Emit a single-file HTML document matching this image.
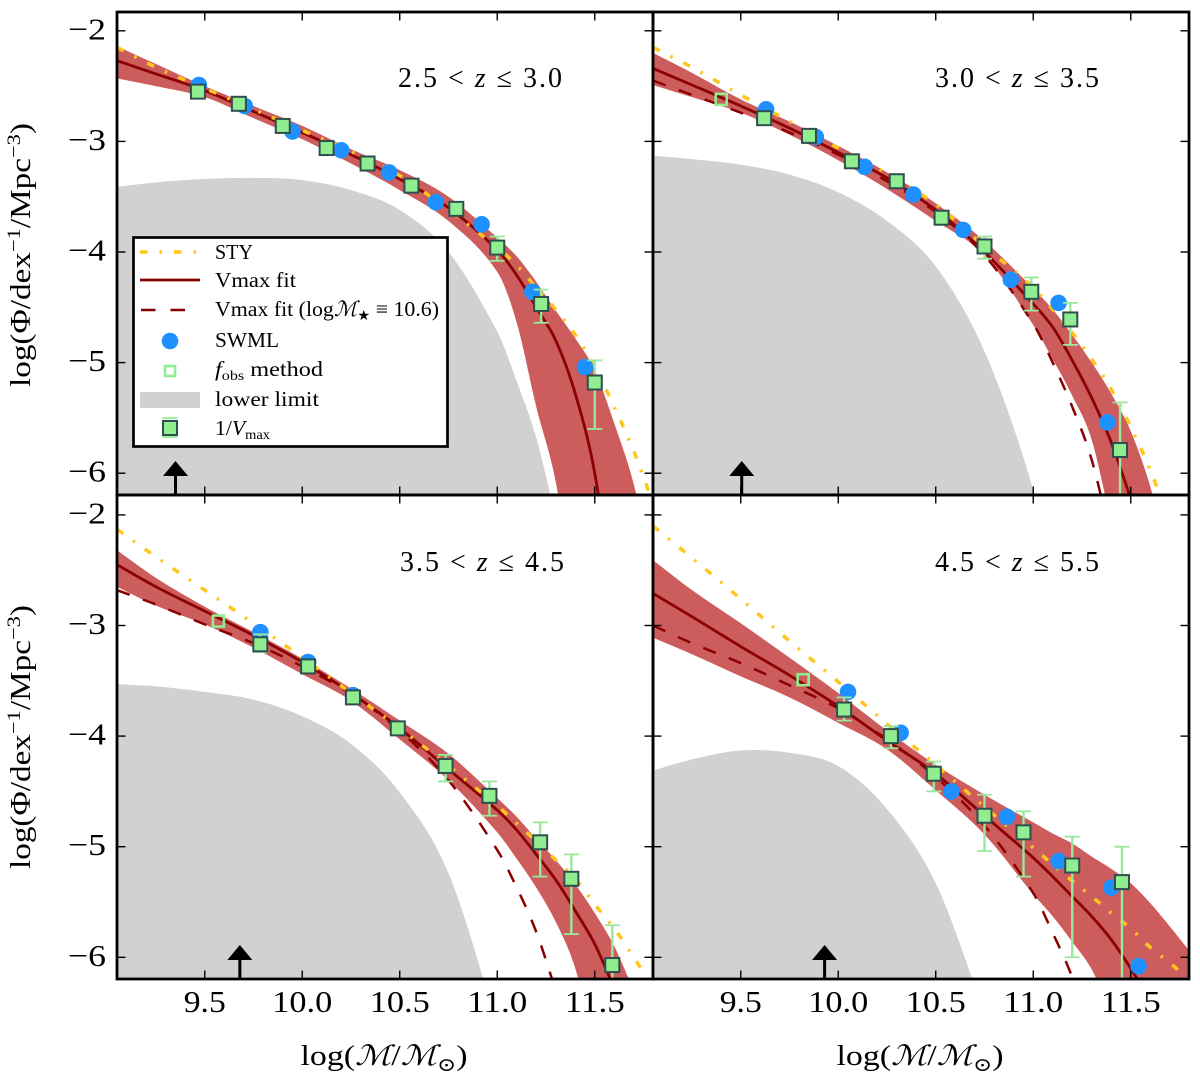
<!DOCTYPE html>
<html lang="en">
<head>
<meta charset="utf-8">
<title>Stellar mass functions in four redshift bins</title>
<style>
  html, body { margin: 0; padding: 0; background: #fff; overflow: hidden; }
  svg { display: block; }
  text { font-family: "Liberation Serif", "DejaVu Serif", serif; fill: #000; }
  .tick-text { font-size: 31px; }
  .title-text { font-size: 28px; }
  .axis-text { font-size: 28px; }
  .legend-text { font-size: 21px; }
</style>
</head>
<body>
<svg id="chart" width="1200" height="1080" viewBox="0 0 1200 1080" xmlns="http://www.w3.org/2000/svg">
  <rect x="0" y="0" width="1200" height="1080" fill="#fff"/>
  <defs>
    <clipPath id="clip-0"><rect x="117" y="12" width="536" height="483"/></clipPath>
    <clipPath id="clip-1"><rect x="653" y="12" width="536" height="483"/></clipPath>
    <clipPath id="clip-2"><rect x="117" y="495" width="536" height="484"/></clipPath>
    <clipPath id="clip-3"><rect x="653" y="495" width="536" height="484"/></clipPath>
  </defs>
  <g id="panels"></g>

  <text class="axis-text" transform="translate(30,255) rotate(-90)" text-anchor="middle" textLength="264" lengthAdjust="spacingAndGlyphs">log(Φ/dex<tspan dy="-10" font-size="19">−1</tspan><tspan dy="10">/Mpc</tspan><tspan dy="-10" font-size="19">−3</tspan><tspan dy="10">)</tspan></text>
  <text class="axis-text" transform="translate(30,737) rotate(-90)" text-anchor="middle" textLength="264" lengthAdjust="spacingAndGlyphs">log(Φ/dex<tspan dy="-10" font-size="19">−1</tspan><tspan dy="10">/Mpc</tspan><tspan dy="-10" font-size="19">−3</tspan><tspan dy="10">)</tspan></text>
  <text class="axis-text" x="384" y="1065" text-anchor="middle" textLength="167" lengthAdjust="spacingAndGlyphs">log(<tspan font-style="italic">ℳ</tspan>/<tspan font-style="italic">ℳ</tspan><tspan dy="6" font-size="19">⊙</tspan><tspan dy="-6">)</tspan></text>
  <text class="axis-text" x="920" y="1065" text-anchor="middle" textLength="167" lengthAdjust="spacingAndGlyphs">log(<tspan font-style="italic">ℳ</tspan>/<tspan font-style="italic">ℳ</tspan><tspan dy="6" font-size="19">⊙</tspan><tspan dy="-6">)</tspan></text>

  <g>
    <rect x="133.5" y="237.5" width="314" height="209" fill="#fff" stroke="#000" stroke-width="2.7"/>

    <line x1="140" y1="252" x2="200" y2="252" stroke="#FFC61E" stroke-width="3.5" stroke-dasharray="7.5 12 2.5 12"/>
    <text class="legend-text" x="215" y="259" textLength="38" lengthAdjust="spacingAndGlyphs">STY</text>

    <line x1="140" y1="280" x2="200" y2="280" stroke="#8B0000" stroke-width="2.8"/>
    <text class="legend-text" x="215" y="287" textLength="81" lengthAdjust="spacingAndGlyphs">Vmax fit</text>

    <line x1="141" y1="310" x2="186" y2="310" stroke="#8B0000" stroke-width="2.5" stroke-dasharray="14.5 15"/>
    <text class="legend-text" x="215" y="316" textLength="224" lengthAdjust="spacingAndGlyphs">Vmax fit (log<tspan font-style="italic">ℳ</tspan><tspan dy="4" font-size="14">★</tspan><tspan dy="-4"> ≡ 10.6)</tspan></text>

    <circle cx="170" cy="341" r="8.3" fill="#1E90FF"/>
    <text class="legend-text" x="215" y="347" textLength="64" lengthAdjust="spacingAndGlyphs">SWML</text>

    <rect x="165" y="366" width="10" height="10" fill="#fff" stroke="#90EE90" stroke-width="2.6"/>
    <text class="legend-text" x="215" y="376" textLength="108" lengthAdjust="spacingAndGlyphs"><tspan font-style="italic">f</tspan><tspan dy="4" font-size="14">obs</tspan><tspan dy="-4"> method</tspan></text>

    <rect x="140" y="392" width="60" height="16" fill="#D1D1D1"/>
    <text class="legend-text" x="215" y="406" textLength="104" lengthAdjust="spacingAndGlyphs">lower limit</text>

    <g>
      <line x1="162.5" y1="418" x2="177.5" y2="418" stroke="#90EE90" stroke-width="1.8"/>
      <line x1="162.5" y1="437" x2="177.5" y2="437" stroke="#90EE90" stroke-width="1.8"/>
      <rect x="163" y="421" width="14" height="14" fill="#90EE90" stroke="#2F4F4F" stroke-width="2"/>
    </g>
    <text class="legend-text" x="215" y="435" textLength="55" lengthAdjust="spacingAndGlyphs">1/<tspan font-style="italic">V</tspan><tspan dy="4" font-size="14">max</tspan></text>
  </g>

  <script>
    // Shared axis data
    const massGrid = [9.05, 9.25, 9.5, 9.75, 10, 10.25, 10.5, 10.75, 11, 11.1, 11.2, 11.3, 11.4, 11.5, 11.6, 11.7, 11.8];
    const xTicks = [9.5, 10, 10.5, 11, 11.5];
    const xTickLabels = ['9.5', '10.0', '10.5', '11.0', '11.5'];
    const yTicks = [-2, -3, -4, -5, -6];
    const yTickLabels = ['−2', '−3', '−4', '−5', '−6'];
    const panelNames = ['2.5', '3.0', '3.5', '4.5', '5.5'];

    // Panel 1: 2.5 < z <= 3.0
    const p1Vmax = [-2.27, -2.39, -2.54, -2.73, -2.92, -3.12, -3.34, -3.6, -3.98, -4.21, -4.5, -4.8, -5.28, -6.0, -7.2, -8.6, -10.2];
    const p1Upper = [-2.14, -2.3, -2.5, -2.68, -2.86, -3.07, -3.26, -3.5, -3.87, -4.04, -4.27, -4.53, -4.78, -5.07, -5.55, -6.1, -6.9];
    const p1Lower = [-2.43, -2.5, -2.6, -2.79, -2.98, -3.2, -3.44, -3.72, -4.18, -4.64, -5.4, -6.08, -7.2, -8.5, -10, -11.5, -13];
    const p1Sty = [-2.15, -2.33, -2.52, -2.71, -2.9, -3.09, -3.31, -3.62, -3.96, -4.12, -4.32, -4.52, -4.75, -5.04, -5.4, -5.8, -6.28];
    const p1Limit = [-3.41, -3.37, -3.34, -3.33, -3.35, -3.44, -3.62, -4.0, -4.72, -5.17, -5.68, -6.4, -7.5];
    const p1Fixed = [];
    const p1SwmlMass = [9.47, 9.705, 9.95, 10.2, 10.445, 10.685, 10.92, 11.18, 11.45];
    const p1SwmlLog = [-2.49, -2.68, -2.91, -3.08, -3.28, -3.55, -3.75, -4.36, -5.04];
    const p1SquareMass = [9.465, 9.675, 9.9, 10.125, 10.335, 10.56, 10.79, 11, 11.225, 11.5];
    const p1SquareLog = [-2.55, -2.66, -2.86, -3.06, -3.2, -3.4, -3.61, -3.96, -4.47, -5.18];
    const p1SquareHigh = [-2.53, -2.64, -2.84, -3.04, -3.18, -3.38, -3.58, -3.86, -4.34, -4.98];
    const p1SquareLow = [-2.57, -2.68, -2.88, -3.08, -3.22, -3.42, -3.64, -4.08, -4.64, -5.6];
    const p1FobsMass = [];
    const p1FobsLog = [];
    const p1ArrowMass = 9.35;

    // Panel 2: 3.0 < z <= 3.5
    const p2Vmax = [-2.34, -2.49, -2.68, -2.88, -3.1, -3.33, -3.62, -4.0, -4.47, -4.68, -4.98, -5.32, -5.72, -6.23, -6.9, -7.7, -8.6];
    const p2Upper = [-2.2, -2.38, -2.62, -2.82, -3.04, -3.28, -3.56, -3.9, -4.33, -4.52, -4.75, -5.0, -5.28, -5.62, -6.12, -6.8, -7.6];
    const p2Lower = [-2.49, -2.6, -2.74, -2.94, -3.17, -3.43, -3.72, -4.03, -4.66, -4.97, -5.3, -5.7, -6.45, -7.3, -8.2, -9.2, -10.3];
    const p2Sty = [-2.15, -2.33, -2.58, -2.82, -3.06, -3.29, -3.57, -3.95, -4.32, -4.52, -4.73, -4.97, -5.24, -5.58, -5.97, -6.45, -7.0];
    const p2Limit = [-3.13, -3.16, -3.21, -3.3, -3.46, -3.72, -4.13, -4.9, -6.15, -7.0, -7.9];
    const p2Fixed = [-2.45, -2.58, -2.74, -2.92, -3.12, -3.36, -3.64, -4.03, -4.65, -5.0, -5.4, -5.88, -6.6, -7.5, -8.5, -9.7, -11];
    const p2SwmlMass = [9.63, 9.885, 10.135, 10.385, 10.64, 10.885, 11.13, 11.38];
    const p2SwmlLog = [-2.71, -2.96, -3.23, -3.48, -3.8, -4.25, -4.46, -5.54];
    const p2SquareMass = [9.62, 9.85, 10.07, 10.3, 10.53, 10.75, 10.99, 11.19, 11.445];
    const p2SquareLog = [-2.79, -2.95, -3.18, -3.36, -3.69, -3.95, -4.36, -4.61, -5.79];
    const p2SquareHigh = [-2.77, -2.93, -3.16, -3.34, -3.66, -3.86, -4.23, -4.46, -5.36];
    const p2SquareLow = [-2.81, -2.97, -3.2, -3.38, -3.72, -4.06, -4.53, -4.84, -6.7];
    const p2FobsMass = [9.4];
    const p2FobsLog = [-2.62];
    const p2ArrowMass = 9.505;

    // Panel 3: 3.5 < z <= 4.5
    const p3Vmax = [-2.45, -2.65, -2.87, -3.09, -3.33, -3.61, -3.93, -4.3, -4.67, -4.85, -5.07, -5.3, -5.58, -5.88, -6.28, -6.8, -7.4];
    const p3Upper = [-2.32, -2.57, -2.83, -3.06, -3.3, -3.57, -3.86, -4.16, -4.56, -4.73, -4.93, -5.12, -5.34, -5.6, -5.9, -6.3, -6.8];
    const p3Lower = [-2.65, -2.82, -2.99, -3.2, -3.44, -3.68, -4.03, -4.4, -4.87, -5.11, -5.37, -5.68, -6.1, -6.8, -7.5, -8.3, -9.2];
    const p3Sty = [-2.13, -2.38, -2.68, -2.98, -3.29, -3.61, -3.93, -4.27, -4.63, -4.79, -4.95, -5.12, -5.29, -5.52, -5.74, -6.0, -6.28];
    const p3Limit = [-3.53, -3.55, -3.6, -3.67, -3.82, -4.07, -4.51, -5.24, -6.6, -8.0];
    const p3Fixed = [-2.68, -2.81, -2.99, -3.16, -3.37, -3.62, -3.95, -4.4, -5.03, -5.37, -5.77, -6.3, -6.9, -7.6, -8.4, -9.3, -10.3];
    const p3SwmlMass = [9.785, 10.03, 10.26];
    const p3SwmlLog = [-3.06, -3.33, -3.63];
    const p3SquareMass = [9.785, 10.03, 10.26, 10.49, 10.735, 10.96, 11.22, 11.38, 11.59];
    const p3SquareLog = [-3.17, -3.37, -3.65, -3.93, -4.27, -4.54, -4.96, -5.29, -6.07];
    const p3SquareHigh = [-3.08, -3.31, -3.61, -3.89, -4.17, -4.41, -4.78, -5.07, -5.71];
    const p3SquareLow = [-3.24, -3.43, -3.68, -3.97, -4.41, -4.72, -5.27, -5.79, -6.7];
    const p3FobsMass = [9.57];
    const p3FobsLog = [-2.96];
    const p3ArrowMass = 9.68;

    // Panel 4: 4.5 < z <= 5.5
    const p4Vmax = [-2.71, -2.92, -3.19, -3.45, -3.73, -4.04, -4.34, -4.72, -5.1, -5.27, -5.45, -5.63, -5.84, -6.1, -6.4, -6.8, -7.2];
    const p4Upper = [-2.41, -2.68, -2.98, -3.29, -3.61, -3.95, -4.26, -4.53, -4.78, -4.88, -4.97, -5.09, -5.2, -5.33, -5.51, -5.72, -5.94];
    const p4Lower = [-3.11, -3.26, -3.46, -3.65, -3.88, -4.12, -4.49, -4.89, -5.43, -5.63, -5.86, -6.11, -6.5, -7.0, -7.6, -8.2, -8.9];
    const p4Sty = [-2.1, -2.39, -2.76, -3.14, -3.51, -3.89, -4.26, -4.64, -5.01, -5.16, -5.31, -5.45, -5.6, -5.74, -5.91, -6.05, -6.2];
    const p4Limit = [-4.31, -4.21, -4.13, -4.15, -4.27, -4.66, -5.33, -6.5, -7.5];
    const p4Fixed = [-3.0, -3.16, -3.34, -3.54, -3.75, -4.03, -4.37, -4.81, -5.42, -5.78, -6.18, -6.7, -7.3, -8.0, -8.8, -9.6, -10.5];
    const p4SwmlMass = [10.05, 10.32, 10.58, 10.865, 11.13, 11.4, 11.54];
    const p4SwmlLog = [-3.6, -3.97, -4.5, -4.73, -5.13, -5.37, -6.08];
    const p4SquareMass = [10.03, 10.27, 10.49, 10.75, 10.95, 11.2, 11.455];
    const p4SquareLog = [-3.76, -4.0, -4.34, -4.72, -4.87, -5.17, -5.32];
    const p4SquareHigh = [-3.65, -3.91, -4.23, -4.53, -4.68, -4.91, -5.0];
    const p4SquareLow = [-3.86, -4.11, -4.5, -5.04, -5.27, -6.0, -6.7];
    const p4FobsMass = [9.82];
    const p4FobsLog = [-3.49];
    const p4ArrowMass = 9.93;

    const SVG_NS = 'http://www.w3.org/2000/svg';
    const X_MIN = 9.05;
    const X_SCALE = 195;
    const Y_SCALE = 110.6;

    const panels = [
      { left: 117, top: 12, right: 653, bottom: 495, topValue: -1.83, lowZ: panelNames[0], highZ: panelNames[1], titleX: 398, titleY: 87,
        vmax: p1Vmax, upper: p1Upper, lower: p1Lower, sty: p1Sty, limit: p1Limit, fixed: p1Fixed,
        swmlMass: p1SwmlMass, swmlLog: p1SwmlLog, squareMass: p1SquareMass, squareLog: p1SquareLog,
        squareHigh: p1SquareHigh, squareLow: p1SquareLow, fobsMass: p1FobsMass, fobsLog: p1FobsLog, arrow: p1ArrowMass },
      { left: 653, top: 12, right: 1189, bottom: 495, topValue: -1.83, lowZ: panelNames[1], highZ: panelNames[2], titleX: 935, titleY: 87,
        vmax: p2Vmax, upper: p2Upper, lower: p2Lower, sty: p2Sty, limit: p2Limit, fixed: p2Fixed,
        swmlMass: p2SwmlMass, swmlLog: p2SwmlLog, squareMass: p2SquareMass, squareLog: p2SquareLog,
        squareHigh: p2SquareHigh, squareLow: p2SquareLow, fobsMass: p2FobsMass, fobsLog: p2FobsLog, arrow: p2ArrowMass },
      { left: 117, top: 495, right: 653, bottom: 979, topValue: -1.82, lowZ: panelNames[2], highZ: panelNames[3], titleX: 400, titleY: 571,
        vmax: p3Vmax, upper: p3Upper, lower: p3Lower, sty: p3Sty, limit: p3Limit, fixed: p3Fixed,
        swmlMass: p3SwmlMass, swmlLog: p3SwmlLog, squareMass: p3SquareMass, squareLog: p3SquareLog,
        squareHigh: p3SquareHigh, squareLow: p3SquareLow, fobsMass: p3FobsMass, fobsLog: p3FobsLog, arrow: p3ArrowMass },
      { left: 653, top: 495, right: 1189, bottom: 979, topValue: -1.82, lowZ: panelNames[3], highZ: panelNames[4], titleX: 935, titleY: 571,
        vmax: p4Vmax, upper: p4Upper, lower: p4Lower, sty: p4Sty, limit: p4Limit, fixed: p4Fixed,
        swmlMass: p4SwmlMass, swmlLog: p4SwmlLog, squareMass: p4SquareMass, squareLog: p4SquareLog,
        squareHigh: p4SquareHigh, squareLow: p4SquareLow, fobsMass: p4FobsMass, fobsLog: p4FobsLog, arrow: p4ArrowMass }
    ];

    function xScale(p, mass) { return p.left + (mass - X_MIN) * X_SCALE; }
    function yScale(p, logPhi) { return p.top + (p.topValue - logPhi) * Y_SCALE; }

    function make(tag, attrs, parent) {
      const el = document.createElementNS(SVG_NS, tag);
      for (const k in attrs) el.setAttribute(k, attrs[k]);
      parent.appendChild(el);
      return el;
    }

    // Keep only the part of a curve down to its first point below the panel floor.
    function visibleLength(p, values) {
      for (let i = 0; i < values.length; i++) {
        if (yScale(p, values[i]) > p.bottom) return i + 1;
      }
      return values.length;
    }

    // Smooth cubic path through data points, expressed in pixel space.
    function smoothSegments(p, masses, values) {
      const xs = masses.map(m => xScale(p, m));
      const ys = values.map(v => yScale(p, v));
      const n = xs.length;
      const slope = [];
      for (let i = 0; i < n; i++) {
        const a = Math.max(0, i - 1);
        const b = Math.min(n - 1, i + 1);
        slope.push((ys[b] - ys[a]) / (xs[b] - xs[a]));
      }
      let d = '';
      for (let i = 0; i < n - 1; i++) {
        const h = xs[i + 1] - xs[i];
        d += ' C' + (xs[i] + h / 3).toFixed(2) + ' ' + (ys[i] + slope[i] * h / 3).toFixed(2) + ' ' +
             (xs[i + 1] - h / 3).toFixed(2) + ' ' + (ys[i + 1] - slope[i + 1] * h / 3).toFixed(2) + ' ' +
             xs[i + 1].toFixed(2) + ' ' + ys[i + 1].toFixed(2);
      }
      return { d: d, x0: xs[0], y0: ys[0], xN: xs[n - 1], yN: ys[n - 1] };
    }

    function curvePath(p, values) {
      const n = visibleLength(p, values);
      const seg = smoothSegments(p, massGrid.slice(0, n), values.slice(0, n));
      return 'M' + seg.x0.toFixed(2) + ' ' + seg.y0.toFixed(2) + seg.d;
    }

    function bandPath(p, upper, lower) {
      const nUp = visibleLength(p, upper);
      const nLow = visibleLength(p, lower);
      const top = smoothSegments(p, massGrid.slice(0, nUp), upper.slice(0, nUp));
      const bottom = smoothSegments(p, massGrid.slice(0, nLow).reverse(), lower.slice(0, nLow).reverse());
      return 'M' + top.x0.toFixed(2) + ' ' + top.y0.toFixed(2) + top.d +
             ' L' + top.xN.toFixed(2) + ' ' + (p.bottom + 10) +
             ' L' + bottom.x0.toFixed(2) + ' ' + (p.bottom + 10) +
             ' L' + bottom.x0.toFixed(2) + ' ' + bottom.y0.toFixed(2) + bottom.d + ' Z';
    }

    function limitPath(p, values) {
      const n = visibleLength(p, values);
      const seg = smoothSegments(p, massGrid.slice(0, n), values.slice(0, n));
      return 'M' + seg.x0.toFixed(2) + ' ' + seg.y0.toFixed(2) + seg.d +
             ' L' + seg.xN.toFixed(2) + ' ' + (p.bottom + 10) +
             ' L' + seg.x0.toFixed(2) + ' ' + (p.bottom + 10) + ' Z';
    }

    const root = document.getElementById('panels');

    panels.forEach(function (p, index) {
      const g = make('g', {}, root);
      
      

      const plot = make('g', { 'clip-path': 'url(#clip-' + index + ')' }, g);
      
      

      const limit = make('path', { d: limitPath(p, p.limit), fill: '#D1D1D1' }, plot);
      
      

      const band = make('path', { d: bandPath(p, p.upper, p.lower), fill: '#CD5C5C' }, plot);
      
      

      if (p.fixed.length) {
        const fixed = make('path', { d: curvePath(p, p.fixed), fill: 'none', stroke: '#8B0000', 'stroke-width': 2.5, 'stroke-dasharray': '13.5 14' }, plot);
        
        
      }

      const vmax = make('path', { d: curvePath(p, p.vmax), fill: 'none', stroke: '#8B0000', 'stroke-width': 2.8 }, plot);
      
      

      const sty = make('path', { d: curvePath(p, p.sty), fill: 'none', stroke: '#FFC61E', 'stroke-width': 3.5, 'stroke-dasharray': '7.5 12 2.5 12' }, plot);
      
      

      const arrowX = xScale(p, p.arrow);
      const shaft = make('line', { x1: arrowX, y1: p.bottom, x2: arrowX, y2: p.bottom - 22, stroke: '#000', 'stroke-width': 3 }, plot);
      
      
      const head = make('polygon', { points: (arrowX - 12.5) + ',' + (p.bottom - 19) + ' ' + (arrowX + 12.5) + ',' + (p.bottom - 19) + ' ' + arrowX + ',' + (p.bottom - 34), fill: '#000' }, plot);
      
      

      p.fobsMass.forEach(function (m, i) {
        const s = make('rect', { x: xScale(p, m) - 5.5, y: yScale(p, p.fobsLog[i]) - 5.5, width: 11, height: 11, fill: 'none', stroke: '#90EE90', 'stroke-width': 2.6 }, plot);
        
        
      });

      p.swmlMass.forEach(function (m, i) {
        const c = make('circle', { cx: xScale(p, m), cy: yScale(p, p.swmlLog[i]), r: 8.3, fill: '#1E90FF' }, plot);
        
        
      });

      p.squareMass.forEach(function (m, i) {
        const x = xScale(p, m);
        const yHigh = yScale(p, p.squareHigh[i]);
        const yLow = yScale(p, p.squareLow[i]);
        const bar = make('line', { x1: x, y1: yHigh, x2: x, y2: yLow, stroke: '#9BE79B', 'stroke-width': 2.4 }, plot);
        
        
        const capTop = make('line', { x1: x - 7.5, y1: yHigh, x2: x + 7.5, y2: yHigh, stroke: '#9BE79B', 'stroke-width': 1.8 }, plot);
        
        
        const capBottom = make('line', { x1: x - 7.5, y1: yLow, x2: x + 7.5, y2: yLow, stroke: '#9BE79B', 'stroke-width': 1.8 }, plot);
        
        
      });

      p.squareMass.forEach(function (m, i) {
        const s = make('rect', { x: xScale(p, m) - 7, y: yScale(p, p.squareLog[i]) - 7, width: 14, height: 14, fill: '#90EE90', stroke: '#2F4F4F', 'stroke-width': 2 }, plot);
        
        
      });

      xTicks.forEach(function (t) {
        const x = xScale(p, t);
        const top = make('line', { x1: x, y1: p.top, x2: x, y2: p.top + 8.5, stroke: '#000', 'stroke-width': 1.4 }, g);
        
        
        const bottom = make('line', { x1: x, y1: p.bottom, x2: x, y2: p.bottom - 8.5, stroke: '#000', 'stroke-width': 1.4 }, g);
        
        
      });

      yTicks.forEach(function (t) {
        const y = yScale(p, t);
        const left = make('line', { x1: p.left, y1: y, x2: p.left + 8.5, y2: y, stroke: '#000', 'stroke-width': 1.4 }, g);
        
        
        const right = make('line', { x1: p.right, y1: y, x2: p.right - 8.5, y2: y, stroke: '#000', 'stroke-width': 1.4 }, g);
        
        
      });

      const frame = make('rect', { x: p.left, y: p.top, width: p.right - p.left, height: p.bottom - p.top, fill: 'none', stroke: '#000', 'stroke-width': 2.8 }, g);
      
      

      const title = make('text', { class: 'title-text', x: p.titleX, y: p.titleY, textLength: 164, lengthAdjust: 'spacing' }, g);
      
      
      title.appendChild(document.createTextNode(p.lowZ + ' < '));
      const zVar = make('tspan', { 'font-style': 'italic' }, title);
      zVar.textContent = 'z';
      title.appendChild(document.createTextNode(' ≤ ' + p.highZ));

      if (p.left === 117) {
        yTicks.forEach(function (t, i) {
          const label = make('text', { class: 'tick-text', x: 106, y: yScale(p, t) + 8.5, 'text-anchor': 'end', textLength: 38, lengthAdjust: 'spacingAndGlyphs' }, g);
          
          
          label.textContent = yTickLabels[i];
        });
      }

      if (p.bottom === 979) {
        xTicks.forEach(function (t, i) {
          const text = xTickLabels[i];
          const label = make('text', { class: 'tick-text', x: xScale(p, t), y: 1012, 'text-anchor': 'middle', textLength: text.length === 3 ? 42 : 60, lengthAdjust: 'spacingAndGlyphs' }, g);
          
          
          label.textContent = text;
        });
      }
    });
  </script>
</svg>
</body>
</html>
